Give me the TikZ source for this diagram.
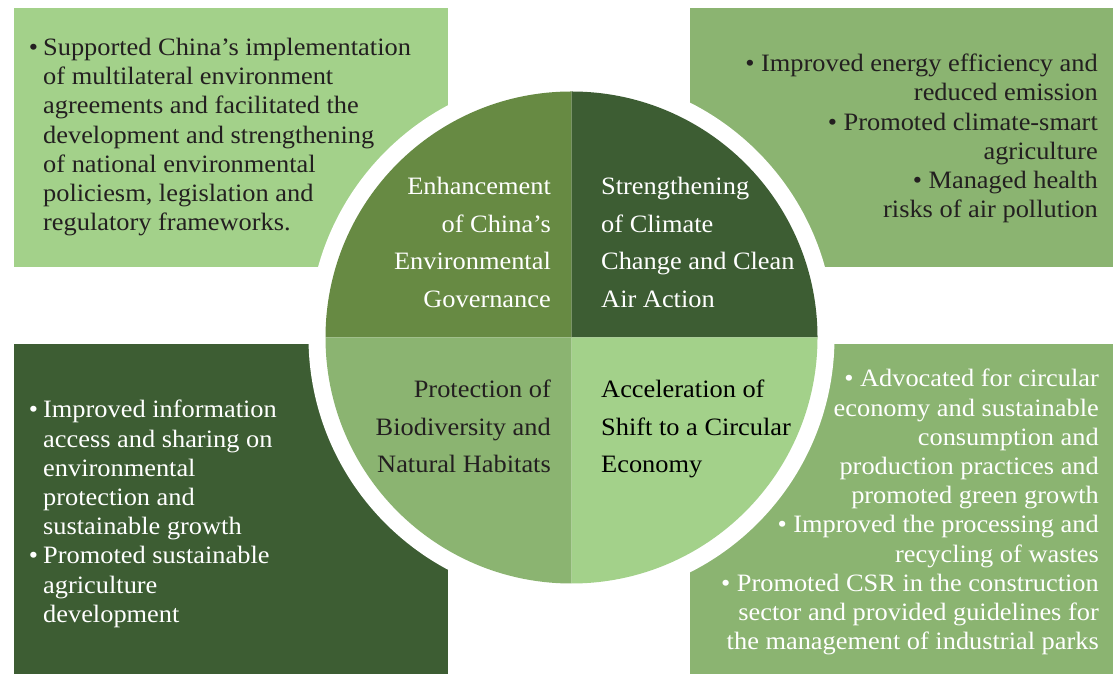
\documentclass[tikz,border=0pt]{standalone}
\usepackage{fontspec}
\setmainfont{Liberation Serif}[FakeStretch=1.055]
\usepackage{tikz}
\definecolor{lightgr}{HTML}{A3D18A}
\definecolor{midgr}{HTML}{8BB471}
\definecolor{olivegr}{HTML}{678A43}
\definecolor{darkgr}{HTML}{3D5D33}
\definecolor{ink}{HTML}{231F20}
\tikzstyle{listtext} = [inner sep=0pt, font=\fontsize{25}{29.2}\selectfont]
\tikzstyle{quadtext} = [inner sep=0pt, font=\fontsize{25}{37.5}\selectfont]
\tikzstyle{ring} = [circle, fill=white, inner sep=0pt, minimum size=526pt]
\newcommand{\bul}{\llap{\textbullet\hspace{5pt}}}

\begin{document}
\begin{tikzpicture}[x=1pt, y=1pt]
\useasboundingbox (0,0) rectangle (1113,674);

% corner panels
\fill [lightgr] (14,407) rectangle (448,666);
\fill [midgr] (690,407) rectangle (1113,666);
\fill [darkgr] (14,0) rectangle (448,330);
\fill [midgr] (690,0) rectangle (1113,330);

\node [listtext, anchor=north west, align=left, text=ink] at (43,636) (govlist) {\bul Supported China’s implementation\\of multilateral environment\\agreements and facilitated the\\development and strengthening\\of national environmental\\policiesm, legislation and\\regulatory frameworks.};

\node [listtext, anchor=north east, align=right, text=ink] at (1098,620) (climlist) {\textbullet\ Improved energy efficiency and\\reduced emission\\\textbullet\ Promoted climate-smart\\agriculture\\\textbullet\ Managed health\\risks of air pollution};

\node [listtext, anchor=north west, align=left, text=white] at (43,274) (biolist) {\bul Improved information\\access and sharing on\\environmental\\protection and\\sustainable growth\\\bul Promoted sustainable\\agriculture\\development};

\node [listtext, anchor=north east, align=right, text=white] at (1099,305) (circlist) {\textbullet\ Advocated for circular\\economy and sustainable\\consumption and\\production practices and\\promoted green growth\\\textbullet\ Improved the processing and\\recycling of wastes\\\textbullet\ Promoted CSR in the construction\\sector and provided guidelines for\\the management of industrial parks};

% circle
\node [ring] at (571.5,336.5) (hub) {};
\fill [olivegr] (hub.center) -- ++(180:246) arc (180:90:246) -- cycle;
\fill [darkgr] (hub.center) -- ++(90:246) arc (90:0:246) -- cycle;
\fill [midgr] (hub.center) -- ++(180:246) arc (180:270:246) -- cycle;
\fill [lightgr] (hub.center) -- ++(270:246) arc (270:360:246) -- cycle;

\node [quadtext, anchor=north east, align=right, text=white] at (551,497) (gov) {Enhancement\\of China’s\\Environmental\\Governance};
\node [quadtext, anchor=north west, align=left, text=white] at (601,497) (clim) {Strengthening\\of Climate\\Change and Clean\\Air Action};
\node [quadtext, anchor=north east, align=right, text=ink] at (551,294) (bio) {Protection of\\Biodiversity and\\Natural Habitats};
\node [quadtext, anchor=north west, align=left, text=black] at (601,294) (circ) {Acceleration of\\Shift to a Circular\\Economy};

\end{tikzpicture}
\end{document}
